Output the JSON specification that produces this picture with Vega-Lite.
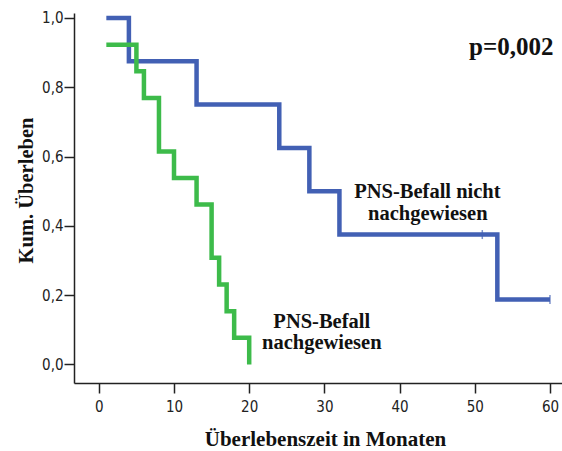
{
  "$schema": "https://vega.github.io/schema/vega-lite/v6.json",
  "width": 488,
  "height": 370,
  "autosize": {"type": "none"},
  "padding": {"left": 74, "top": 13, "right": 0, "bottom": 68},
  "background": "white",
  "config": {
    "view": {"stroke": null},
    "axis": {
      "grid": false,
      "domainColor": "#222222",
      "domainWidth": 1.5,
      "tickColor": "#222222",
      "tickWidth": 1.5,
      "tickSize": 10,
      "labelFont": "Liberation Sans Narrow, DejaVu Sans Condensed, Arial Narrow, sans-serif",
      "labelFontSize": 15,
      "labelColor": "#222222",
      "titleFont": "Liberation Serif",
      "titleFontWeight": "bold",
      "titleFontSize": 20,
      "titleColor": "#111111"
    }
  },
  "datasets": {
    "kurven": [
      {"gruppe": "nicht nachgewiesen", "monate": 1, "ueberleben": 1.0},
      {"gruppe": "nicht nachgewiesen", "monate": 4, "ueberleben": 0.875},
      {"gruppe": "nicht nachgewiesen", "monate": 13, "ueberleben": 0.75},
      {"gruppe": "nicht nachgewiesen", "monate": 24, "ueberleben": 0.625},
      {"gruppe": "nicht nachgewiesen", "monate": 28, "ueberleben": 0.5},
      {"gruppe": "nicht nachgewiesen", "monate": 32, "ueberleben": 0.375},
      {"gruppe": "nicht nachgewiesen", "monate": 51, "ueberleben": 0.375},
      {"gruppe": "nicht nachgewiesen", "monate": 53, "ueberleben": 0.1875},
      {"gruppe": "nicht nachgewiesen", "monate": 60, "ueberleben": 0.1875},
      {"gruppe": "nachgewiesen", "monate": 1, "ueberleben": 0.923},
      {"gruppe": "nachgewiesen", "monate": 5, "ueberleben": 0.846},
      {"gruppe": "nachgewiesen", "monate": 6, "ueberleben": 0.769},
      {"gruppe": "nachgewiesen", "monate": 8, "ueberleben": 0.615},
      {"gruppe": "nachgewiesen", "monate": 10, "ueberleben": 0.538},
      {"gruppe": "nachgewiesen", "monate": 13, "ueberleben": 0.462},
      {"gruppe": "nachgewiesen", "monate": 15, "ueberleben": 0.308},
      {"gruppe": "nachgewiesen", "monate": 16, "ueberleben": 0.231},
      {"gruppe": "nachgewiesen", "monate": 17, "ueberleben": 0.154},
      {"gruppe": "nachgewiesen", "monate": 18, "ueberleben": 0.077},
      {"gruppe": "nachgewiesen", "monate": 20, "ueberleben": 0.0}
    ],
    "zensiert": [
      {"gruppe": "nicht nachgewiesen", "monate": 51, "ueberleben": 0.375},
      {"gruppe": "nicht nachgewiesen", "monate": 60, "ueberleben": 0.1875}
    ],
    "beschriftung": [
      {"monate": 43.7, "ueberleben": 0.4805, "text": "PNS-Befall nicht"},
      {"monate": 43.75, "ueberleben": 0.417, "text": "nachgewiesen"},
      {"monate": 29.65, "ueberleben": 0.105, "text": "PNS-Befall"},
      {"monate": 29.65, "ueberleben": 0.0447, "text": "nachgewiesen"}
    ],
    "pwert": [
      {"monate": 54.85, "ueberleben": 0.893, "text": "p=0,002"}
    ]
  },
  "encoding": {
    "x": {
      "field": "monate",
      "type": "quantitative",
      "scale": {"domain": [-3.3, 61.6], "nice": false, "zero": false},
      "axis": {
        "title": "Überlebenszeit in Monaten",
        "values": [0, 10, 20, 30, 40, 50, 60],
        "labelPadding": 6,
        "titleFontSize": 21,
        "titleX": 251,
        "titleY": 62,
        "titleAlign": "center",
        "titleBaseline": "alphabetic"
      }
    },
    "y": {
      "field": "ueberleben",
      "type": "quantitative",
      "scale": {"domain": [-0.0534, 1.0144], "nice": false, "zero": false},
      "axis": {
        "title": "Kum. Überleben",
        "values": [0, 0.2, 0.4, 0.6, 0.8, 1.0],
        "labelExpr": "replace(format(datum.value, '.1f'), '.', ',')",
        "labelPadding": 1,
        "titleFontSize": 20.5,
        "titleAngle": 270,
        "titleX": -42,
        "titleY": 177,
        "titleAlign": "center",
        "titleBaseline": "alphabetic"
      }
    }
  },
  "layer": [
    {
      "data": {"name": "kurven"},
      "mark": {"type": "line", "interpolate": "step-after", "strokeWidth": 4.5, "strokeCap": "butt", "strokeJoin": "miter"},
      "encoding": {
        "color": {
          "field": "gruppe",
          "type": "nominal",
          "scale": {"domain": ["nicht nachgewiesen", "nachgewiesen"], "range": ["#4260b4", "#3dbb4a"]},
          "legend": null
        }
      }
    },
    {
      "data": {"name": "zensiert"},
      "mark": {"type": "tick", "orient": "vertical", "size": 9, "thickness": 1.5, "color": "#4260b4"}
    },
    {
      "data": {"name": "beschriftung"},
      "mark": {"type": "text", "font": "Liberation Serif", "fontWeight": "bold", "fontSize": 20.5, "align": "center", "baseline": "alphabetic", "color": "#111111"},
      "encoding": {"text": {"field": "text"}}
    },
    {
      "data": {"name": "pwert"},
      "mark": {"type": "text", "font": "Liberation Serif", "fontWeight": "bold", "fontSize": 25, "align": "center", "baseline": "alphabetic", "color": "#111111"},
      "encoding": {"text": {"field": "text"}}
    }
  ]
}
